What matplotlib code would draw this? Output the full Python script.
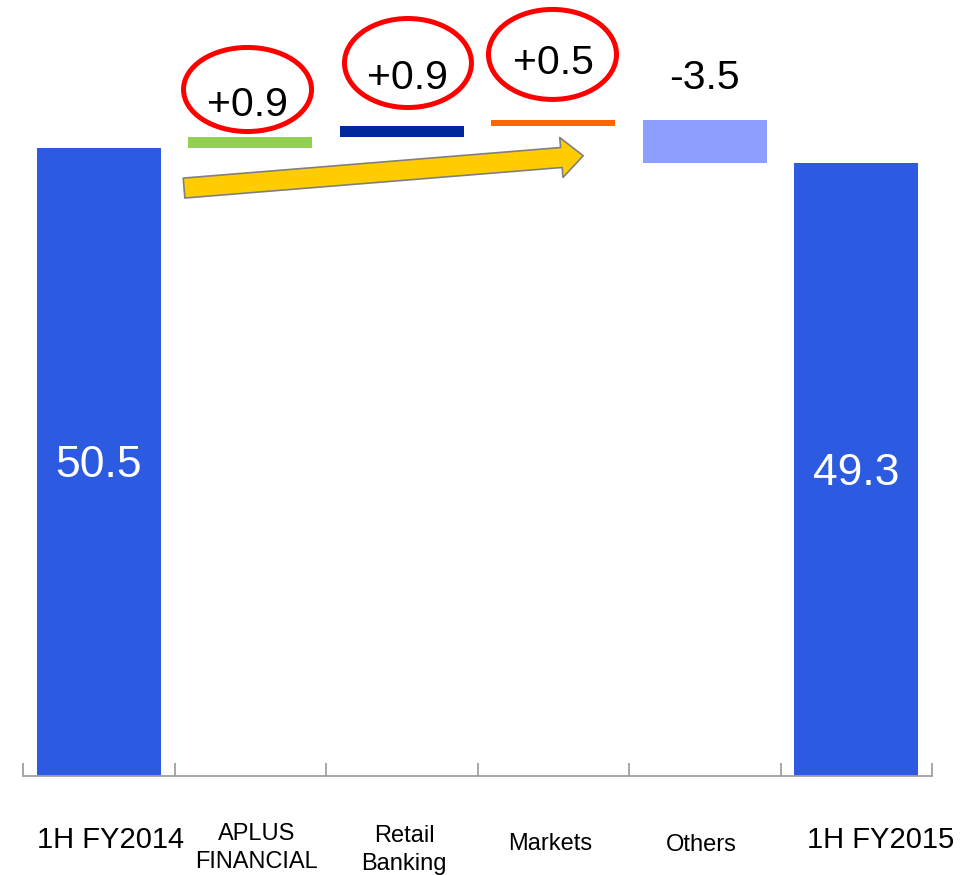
import matplotlib
matplotlib.use("Agg")
import matplotlib.pyplot as plt
from matplotlib.patches import Ellipse, FancyArrowPatch

plt.rcParams["font.family"] = ["Liberation Sans", "DejaVu Sans"]

# Waterfall data
categories = ["1H FY2014", "APLUS\nFINANCIAL", "Retail\nBanking", "Markets", "Others", "1H FY2015"]
start_value = 50.5
changes = [0.9, 0.9, 0.5, -3.5]
end_value = 49.3
change_labels = ["+0.9", "+0.9", "+0.5", "-3.5"]

# Styling
total_color = "#2C5AE0"
change_colors = ["#92D050", "#00289A", "#FF6600", "#8C9EFF"]
label_offsets = [1.7, 3.0, 3.7, 2.5]          # baseline of value labels above bar tops
circled = [True, True, True, False]
cat_label_dx = [0.08, 0.04, 0.015, -0.02, -0.02, 0.16]

W, H, DPI = 969, 875, 100
fig = plt.figure(figsize=(W / DPI, H / DPI), dpi=DPI)
base_px = 776
ax = fig.add_axes([23 / W, (H - base_px) / H, 909 / W, base_px / H])
px_per_unit = 12.43
ax.set_xlim(-0.5, 5.5)
ax.set_ylim(0, base_px / px_per_unit)

bar_w = 0.82
# totals
ax.bar(0, start_value, width=bar_w, color=total_color, zorder=2)
ax.bar(5, end_value, width=bar_w, color=total_color, zorder=2)

# floating change bars
running = start_value
tops = []
for i, (d, c) in enumerate(zip(changes, change_colors)):
    bottom = running if d >= 0 else running + d
    ax.bar(i + 1, abs(d), bottom=bottom, width=bar_w, color=c, zorder=2)
    tops.append(bottom + abs(d))
    running += d

# values inside total bars
for x, v in [(0, start_value), (5, end_value)]:
    ax.annotate(f"{v:.1f}", (x, v / 2), xytext=(0, -11), textcoords="offset points",
                ha="center", va="baseline", color="white", fontsize=32, zorder=3)

# change labels, some circled in red
label_dx = [-0.02, 0.035, 0.0, 0.0]
for i, (lab, top, off) in enumerate(zip(change_labels, tops, label_offsets)):
    ax.text(i + 1 + label_dx[i], top + off, lab, ha="center", va="baseline",
            fontsize=29.5, color="black", zorder=4)

ellipses = [(0.982, 55.23, 0.845, 6.76), (2.041, 57.36, 0.838, 7.16), (2.995, 58.05, 0.845, 7.24)]
for (cx, cy, ew, eh), flag in zip(ellipses, circled):
    if flag:
        ax.add_patch(Ellipse((cx, cy), ew, eh, fill=False, edgecolor="#FF0000",
                             linewidth=3.6, zorder=5, clip_on=False))

# yellow trend arrow
arrow = FancyArrowPatch((0.563, 47.30), (3.198, 49.90),
                        arrowstyle="simple,head_length=15.8,head_width=28.8,tail_width=14.4",
                        mutation_scale=1, shrinkA=0, shrinkB=0,
                        facecolor="#FFCC00", edgecolor="#808080", linewidth=1.2, zorder=4)
ax.add_patch(arrow)

# axis styling
for s in ["top", "left", "right"]:
    ax.spines[s].set_visible(False)
ax.spines["bottom"].set_color("#A0A0A0")
ax.spines["bottom"].set_linewidth(1.3)
ax.set_yticks([])
ax.set_xticks([i - 0.5 for i in range(len(categories) + 1)])
ax.set_xticklabels([])
ax.tick_params(axis="x", direction="in", length=9.4, width=1.3, color="#A0A0A0")


def axes_y(px):
    return (base_px - px) / base_px


# category labels (baselines in px from top)
big = {0, 5}
baselines = [[848], [840, 868], [842, 870], [850], [851], [848]]
xt = ax.get_xaxis_transform()
for i, (cat, bl) in enumerate(zip(categories, baselines)):
    fs = 21 if i in big else 17
    for line, b in zip(cat.split("\n"), bl):
        ax.text(i + cat_label_dx[i], axes_y(b), line, transform=xt, ha="center",
                va="baseline", fontsize=fs, color="black", clip_on=False)

fig.savefig("out.png", dpi=DPI, facecolor="white")
